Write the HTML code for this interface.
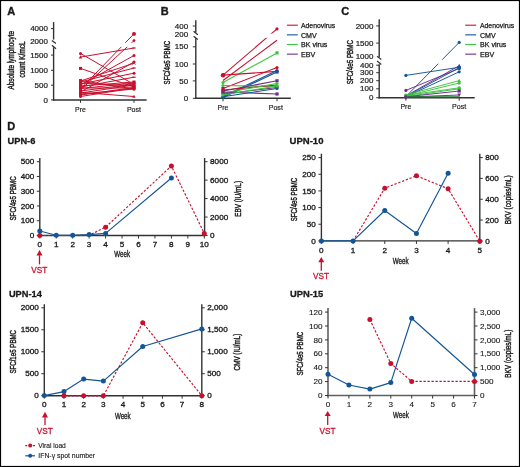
<!DOCTYPE html>
<html><head><meta charset="utf-8"><style>
html,body{margin:0;padding:0;background:#fff;}
body{width:520px;height:467px;overflow:hidden;}
svg{display:block;font-family:"Liberation Sans",sans-serif;will-change:transform;}
</style></head><body>
<svg width="520" height="467" viewBox="0 0 520 467">
<rect x="0.5" y="0.5" width="519" height="466" fill="#fff" stroke="#000" stroke-width="1.2"/>
<text x="7.30" y="15.40" font-size="11" text-anchor="start" stroke="#1a1a1a" stroke-width="0.35" font-weight="bold" fill="#1a1a1a">A</text>
<text x="160.80" y="15.40" font-size="11" text-anchor="start" stroke="#1a1a1a" stroke-width="0.35" font-weight="bold" fill="#1a1a1a">B</text>
<text x="341.20" y="15.40" font-size="11" text-anchor="start" stroke="#1a1a1a" stroke-width="0.35" font-weight="bold" fill="#1a1a1a">C</text>
<text x="7.30" y="129.90" font-size="11" text-anchor="start" stroke="#1a1a1a" stroke-width="0.35" font-weight="bold" fill="#1a1a1a">D</text>
<line x1="53.60" y1="22.10" x2="53.60" y2="39.60" stroke="#333333" stroke-width="1.4" stroke-linecap="butt"/>
<line x1="53.60" y1="47.20" x2="53.60" y2="100.60" stroke="#333333" stroke-width="1.4" stroke-linecap="butt"/>
<line x1="51.90" y1="40.40" x2="56.00" y2="43.60" stroke="#333333" stroke-width="1.3" stroke-linecap="butt"/>
<line x1="51.90" y1="45.30" x2="56.00" y2="48.70" stroke="#333333" stroke-width="1.3" stroke-linecap="butt"/>
<line x1="52.90" y1="100.00" x2="146.60" y2="100.00" stroke="#333333" stroke-width="1.5" stroke-linecap="butt"/>
<line x1="51.00" y1="28.60" x2="53.60" y2="28.60" stroke="#333333" stroke-width="1.0" stroke-linecap="butt"/>
<text x="47.90" y="31.20" font-size="7.6" text-anchor="end" stroke="#1a1a1a" stroke-width="0.2" fill="#1a1a1a" textLength="17.75" lengthAdjust="spacingAndGlyphs">4000</text>
<text x="47.90" y="43.80" font-size="7.6" text-anchor="end" stroke="#1a1a1a" stroke-width="0.2" fill="#1a1a1a" textLength="17.75" lengthAdjust="spacingAndGlyphs">2000</text>
<line x1="51.00" y1="55.10" x2="53.60" y2="55.10" stroke="#333333" stroke-width="1.0" stroke-linecap="butt"/>
<text x="47.90" y="57.70" font-size="7.6" text-anchor="end" stroke="#1a1a1a" stroke-width="0.2" fill="#1a1a1a" textLength="17.75" lengthAdjust="spacingAndGlyphs">1500</text>
<line x1="51.00" y1="70.30" x2="53.60" y2="70.30" stroke="#333333" stroke-width="1.0" stroke-linecap="butt"/>
<text x="47.90" y="72.90" font-size="7.6" text-anchor="end" stroke="#1a1a1a" stroke-width="0.2" fill="#1a1a1a" textLength="17.75" lengthAdjust="spacingAndGlyphs">1000</text>
<line x1="51.00" y1="85.20" x2="53.60" y2="85.20" stroke="#333333" stroke-width="1.0" stroke-linecap="butt"/>
<text x="47.90" y="87.80" font-size="7.6" text-anchor="end" stroke="#1a1a1a" stroke-width="0.2" fill="#1a1a1a" textLength="13.31" lengthAdjust="spacingAndGlyphs">500</text>
<line x1="51.00" y1="99.90" x2="53.60" y2="99.90" stroke="#333333" stroke-width="1.0" stroke-linecap="butt"/>
<text x="47.90" y="102.50" font-size="7.6" text-anchor="end" stroke="#1a1a1a" stroke-width="0.2" fill="#1a1a1a" textLength="4.44" lengthAdjust="spacingAndGlyphs">0</text>
<line x1="80.50" y1="99.90" x2="80.50" y2="102.80" stroke="#333333" stroke-width="1.0" stroke-linecap="butt"/>
<line x1="134.00" y1="99.90" x2="134.00" y2="102.80" stroke="#333333" stroke-width="1.0" stroke-linecap="butt"/>
<text x="80.50" y="112.40" font-size="7.6" text-anchor="middle" stroke="#1a1a1a" stroke-width="0.18" fill="#1a1a1a" textLength="10.8" lengthAdjust="spacingAndGlyphs">Pre</text>
<text x="134.00" y="112.40" font-size="7.6" text-anchor="middle" stroke="#1a1a1a" stroke-width="0.18" fill="#1a1a1a" textLength="14.2" lengthAdjust="spacingAndGlyphs">Post</text>
<text x="13.60" y="60.30" font-size="8.6" text-anchor="middle" stroke="#1a1a1a" stroke-width="0.42" fill="#1a1a1a" textLength="58.5" lengthAdjust="spacingAndGlyphs" transform="rotate(-90 13.60 60.30)">Absolute lymphocyte</text>
<text x="25.00" y="59.50" font-size="8.6" text-anchor="middle" stroke="#1a1a1a" stroke-width="0.42" fill="#1a1a1a" textLength="36" lengthAdjust="spacingAndGlyphs" transform="rotate(-90 25.00 59.50)">count K/mcL</text>
<line x1="80.50" y1="53.40" x2="134.00" y2="84.50" stroke="#c8102e" stroke-width="1.0" stroke-linecap="butt"/>
<line x1="80.50" y1="57.10" x2="134.00" y2="48.00" stroke="#c8102e" stroke-width="1.0" stroke-linecap="butt"/>
<line x1="80.50" y1="68.40" x2="134.00" y2="87.00" stroke="#c8102e" stroke-width="1.0" stroke-linecap="butt"/>
<line x1="80.50" y1="81.00" x2="134.00" y2="63.20" stroke="#c8102e" stroke-width="1.0" stroke-linecap="butt"/>
<line x1="80.50" y1="82.00" x2="134.00" y2="68.00" stroke="#c8102e" stroke-width="1.0" stroke-linecap="butt"/>
<line x1="80.50" y1="83.00" x2="134.00" y2="86.00" stroke="#c8102e" stroke-width="1.0" stroke-linecap="butt"/>
<line x1="80.50" y1="84.00" x2="134.00" y2="73.20" stroke="#c8102e" stroke-width="1.0" stroke-linecap="butt"/>
<line x1="80.50" y1="85.00" x2="134.00" y2="55.50" stroke="#c8102e" stroke-width="1.0" stroke-linecap="butt"/>
<line x1="80.50" y1="86.00" x2="134.00" y2="82.00" stroke="#c8102e" stroke-width="1.0" stroke-linecap="butt"/>
<line x1="80.50" y1="87.00" x2="134.00" y2="77.20" stroke="#c8102e" stroke-width="1.0" stroke-linecap="butt"/>
<line x1="80.50" y1="88.00" x2="134.00" y2="88.00" stroke="#c8102e" stroke-width="1.0" stroke-linecap="butt"/>
<line x1="80.50" y1="89.00" x2="134.00" y2="33.80" stroke="#c8102e" stroke-width="1.0" stroke-linecap="butt"/>
<line x1="80.50" y1="90.00" x2="134.00" y2="40.60" stroke="#c8102e" stroke-width="1.0" stroke-linecap="butt"/>
<line x1="80.50" y1="91.00" x2="134.00" y2="84.00" stroke="#c8102e" stroke-width="1.0" stroke-linecap="butt"/>
<line x1="80.50" y1="92.00" x2="134.00" y2="62.00" stroke="#c8102e" stroke-width="1.0" stroke-linecap="butt"/>
<line x1="80.50" y1="93.00" x2="134.00" y2="85.00" stroke="#c8102e" stroke-width="1.0" stroke-linecap="butt"/>
<line x1="80.50" y1="94.00" x2="134.00" y2="89.00" stroke="#c8102e" stroke-width="1.0" stroke-linecap="butt"/>
<line x1="80.50" y1="92.40" x2="134.00" y2="96.50" stroke="#c8102e" stroke-width="1.0" stroke-linecap="butt"/>
<line x1="80.50" y1="96.50" x2="134.00" y2="88.00" stroke="#c8102e" stroke-width="1.0" stroke-linecap="butt"/>
<line x1="80.50" y1="88.50" x2="134.00" y2="83.00" stroke="#c8102e" stroke-width="1.0" stroke-linecap="butt"/>
<line x1="80.50" y1="80.50" x2="134.00" y2="89.00" stroke="#c8102e" stroke-width="1.0" stroke-linecap="butt"/>
<line x1="80.50" y1="95.00" x2="134.00" y2="87.50" stroke="#c8102e" stroke-width="1.0" stroke-linecap="butt"/>
<rect x="56.00" y="42.80" width="88.00" height="4.00" fill="#fff"/>
<circle cx="80.50" cy="53.40" r="1.5" fill="#c8102e"/>
<line x1="132.50" y1="83.00" x2="135.50" y2="86.00" stroke="#c8102e" stroke-width="0.8" stroke-linecap="butt"/>
<line x1="132.50" y1="86.00" x2="135.50" y2="83.00" stroke="#c8102e" stroke-width="0.8" stroke-linecap="butt"/>
<polygon points="80.50,55.30 78.78,58.45 82.22,58.45" fill="#c8102e"/>
<rect x="132.35" y="47.40" width="3.30" height="1.20" fill="#c8102e"/>
<rect x="79.00" y="66.90" width="3.00" height="3.00" fill="#c8102e"/>
<circle cx="134.00" cy="87.00" r="1.5" fill="#c8102e"/>
<circle cx="80.50" cy="81.00" r="1.5" fill="#c8102e"/>
<line x1="132.50" y1="61.70" x2="135.50" y2="64.70" stroke="#c8102e" stroke-width="0.8" stroke-linecap="butt"/>
<line x1="132.50" y1="64.70" x2="135.50" y2="61.70" stroke="#c8102e" stroke-width="0.8" stroke-linecap="butt"/>
<rect x="79.00" y="80.50" width="3.00" height="3.00" fill="#c8102e"/>
<rect x="132.35" y="67.40" width="3.30" height="1.20" fill="#c8102e"/>
<circle cx="80.50" cy="83.00" r="1.5" fill="#c8102e"/>
<rect x="132.50" y="84.50" width="3.00" height="3.00" fill="#c8102e"/>
<polygon points="80.50,82.20 78.78,85.35 82.22,85.35" fill="#c8102e"/>
<circle cx="134.00" cy="73.20" r="1.5" fill="#c8102e"/>
<circle cx="80.50" cy="85.00" r="1.5" fill="#c8102e"/>
<circle cx="134.00" cy="55.50" r="1.5" fill="#c8102e"/>
<rect x="79.00" y="84.50" width="3.00" height="3.00" fill="#c8102e"/>
<rect x="132.50" y="80.50" width="3.00" height="3.00" fill="#c8102e"/>
<circle cx="80.50" cy="87.00" r="1.5" fill="#c8102e"/>
<rect x="132.35" y="76.60" width="3.30" height="1.20" fill="#c8102e"/>
<polygon points="80.50,86.05 82.15,88.00 80.50,89.95 78.85,88.00" fill="#c8102e"/>
<circle cx="134.00" cy="88.00" r="1.5" fill="#c8102e"/>
<circle cx="80.50" cy="89.00" r="1.5" fill="#c8102e"/>
<circle cx="134.00" cy="33.80" r="1.5" fill="#c8102e"/>
<rect x="79.00" y="88.50" width="3.00" height="3.00" fill="#c8102e"/>
<polygon points="134.00,38.65 135.65,40.60 134.00,42.55 132.35,40.60" fill="#c8102e"/>
<circle cx="80.50" cy="91.00" r="1.5" fill="#c8102e"/>
<circle cx="134.00" cy="84.00" r="1.5" fill="#c8102e"/>
<polygon points="80.50,90.20 78.78,93.35 82.22,93.35" fill="#c8102e"/>
<circle cx="134.00" cy="62.00" r="1.5" fill="#c8102e"/>
<circle cx="80.50" cy="93.00" r="1.5" fill="#c8102e"/>
<polygon points="134.00,83.20 132.28,86.35 135.72,86.35" fill="#c8102e"/>
<rect x="79.00" y="92.50" width="3.00" height="3.00" fill="#c8102e"/>
<circle cx="134.00" cy="89.00" r="1.5" fill="#c8102e"/>
<circle cx="80.50" cy="92.40" r="1.5" fill="#c8102e"/>
<polygon points="134.00,94.70 132.28,97.85 135.72,97.85" fill="#c8102e"/>
<circle cx="80.50" cy="96.50" r="1.5" fill="#c8102e"/>
<circle cx="134.00" cy="88.00" r="1.5" fill="#c8102e"/>
<circle cx="80.50" cy="88.50" r="1.5" fill="#c8102e"/>
<rect x="132.50" y="81.50" width="3.00" height="3.00" fill="#c8102e"/>
<rect x="79.00" y="79.00" width="3.00" height="3.00" fill="#c8102e"/>
<circle cx="134.00" cy="89.00" r="1.5" fill="#c8102e"/>
<circle cx="80.50" cy="95.00" r="1.5" fill="#c8102e"/>
<rect x="132.50" y="86.00" width="3.00" height="3.00" fill="#c8102e"/>
<circle cx="134.00" cy="33.90" r="1.9" fill="#c8102e"/>
<line x1="195.80" y1="20.20" x2="195.80" y2="32.60" stroke="#333333" stroke-width="1.4" stroke-linecap="butt"/>
<line x1="195.80" y1="38.30" x2="195.80" y2="99.00" stroke="#333333" stroke-width="1.4" stroke-linecap="butt"/>
<line x1="193.60" y1="31.20" x2="197.80" y2="34.70" stroke="#333333" stroke-width="1.3" stroke-linecap="butt"/>
<line x1="193.60" y1="36.30" x2="197.80" y2="39.50" stroke="#333333" stroke-width="1.3" stroke-linecap="butt"/>
<line x1="195.10" y1="98.30" x2="290.80" y2="98.30" stroke="#333333" stroke-width="1.5" stroke-linecap="butt"/>
<line x1="192.80" y1="26.00" x2="195.80" y2="26.00" stroke="#333333" stroke-width="1.0" stroke-linecap="butt"/>
<text x="188.10" y="28.60" font-size="7.6" text-anchor="end" stroke="#1a1a1a" stroke-width="0.2" fill="#1a1a1a" textLength="13.31" lengthAdjust="spacingAndGlyphs">400</text>
<text x="188.10" y="37.30" font-size="7.6" text-anchor="end" stroke="#1a1a1a" stroke-width="0.2" fill="#1a1a1a" textLength="13.31" lengthAdjust="spacingAndGlyphs">200</text>
<line x1="192.80" y1="46.80" x2="195.80" y2="46.80" stroke="#333333" stroke-width="1.0" stroke-linecap="butt"/>
<text x="188.10" y="49.40" font-size="7.6" text-anchor="end" stroke="#1a1a1a" stroke-width="0.2" fill="#1a1a1a" textLength="13.31" lengthAdjust="spacingAndGlyphs">150</text>
<line x1="192.80" y1="64.00" x2="195.80" y2="64.00" stroke="#333333" stroke-width="1.0" stroke-linecap="butt"/>
<text x="188.10" y="66.60" font-size="7.6" text-anchor="end" stroke="#1a1a1a" stroke-width="0.2" fill="#1a1a1a" textLength="13.31" lengthAdjust="spacingAndGlyphs">100</text>
<line x1="192.80" y1="80.90" x2="195.80" y2="80.90" stroke="#333333" stroke-width="1.0" stroke-linecap="butt"/>
<text x="188.10" y="83.50" font-size="7.6" text-anchor="end" stroke="#1a1a1a" stroke-width="0.2" fill="#1a1a1a" textLength="8.87" lengthAdjust="spacingAndGlyphs">50</text>
<line x1="192.80" y1="98.30" x2="195.80" y2="98.30" stroke="#333333" stroke-width="1.0" stroke-linecap="butt"/>
<text x="188.10" y="100.90" font-size="7.6" text-anchor="end" stroke="#1a1a1a" stroke-width="0.2" fill="#1a1a1a" textLength="4.44" lengthAdjust="spacingAndGlyphs">0</text>
<line x1="223.00" y1="98.30" x2="223.00" y2="101.30" stroke="#333333" stroke-width="1.0" stroke-linecap="butt"/>
<line x1="277.00" y1="98.30" x2="277.00" y2="101.30" stroke="#333333" stroke-width="1.0" stroke-linecap="butt"/>
<text x="223.00" y="109.90" font-size="7.6" text-anchor="middle" stroke="#1a1a1a" stroke-width="0.18" fill="#1a1a1a" textLength="10.8" lengthAdjust="spacingAndGlyphs">Pre</text>
<text x="275.80" y="109.90" font-size="7.6" text-anchor="middle" stroke="#1a1a1a" stroke-width="0.18" fill="#1a1a1a" textLength="14.2" lengthAdjust="spacingAndGlyphs">Post</text>
<text x="170.20" y="62.60" font-size="9.4" text-anchor="middle" stroke="#1a1a1a" stroke-width="0.42" fill="#1a1a1a" textLength="43.6" lengthAdjust="spacingAndGlyphs" transform="rotate(-90 170.20 62.60)">SFC/4e5 PBMC</text>
<line x1="223.00" y1="75.10" x2="277.00" y2="28.90" stroke="#c8102e" stroke-width="1.1" stroke-linecap="butt"/>
<line x1="223.00" y1="80.50" x2="277.00" y2="40.20" stroke="#c8102e" stroke-width="1.1" stroke-linecap="butt"/>
<line x1="223.00" y1="82.50" x2="277.00" y2="52.90" stroke="#3cc43c" stroke-width="1.1" stroke-linecap="butt"/>
<line x1="223.00" y1="75.10" x2="277.00" y2="71.40" stroke="#c8102e" stroke-width="1.1" stroke-linecap="butt"/>
<line x1="223.00" y1="88.50" x2="277.00" y2="67.60" stroke="#c8102e" stroke-width="1.1" stroke-linecap="butt"/>
<line x1="223.00" y1="96.50" x2="277.00" y2="70.50" stroke="#145595" stroke-width="1.1" stroke-linecap="butt"/>
<line x1="223.00" y1="97.50" x2="277.00" y2="72.00" stroke="#145595" stroke-width="1.1" stroke-linecap="butt"/>
<line x1="223.00" y1="85.50" x2="277.00" y2="86.50" stroke="#3cc43c" stroke-width="1.1" stroke-linecap="butt"/>
<line x1="223.00" y1="91.00" x2="277.00" y2="80.80" stroke="#6c2d8c" stroke-width="1.1" stroke-linecap="butt"/>
<line x1="223.00" y1="90.00" x2="277.00" y2="85.00" stroke="#c8102e" stroke-width="1.1" stroke-linecap="butt"/>
<line x1="223.00" y1="93.00" x2="277.00" y2="83.50" stroke="#3cc43c" stroke-width="1.1" stroke-linecap="butt"/>
<line x1="223.00" y1="92.00" x2="277.00" y2="94.00" stroke="#6c2d8c" stroke-width="1.1" stroke-linecap="butt"/>
<line x1="223.00" y1="94.00" x2="277.00" y2="87.50" stroke="#6c2d8c" stroke-width="1.1" stroke-linecap="butt"/>
<line x1="223.00" y1="96.80" x2="277.00" y2="88.50" stroke="#145595" stroke-width="1.1" stroke-linecap="butt"/>
<line x1="223.00" y1="95.00" x2="277.00" y2="86.00" stroke="#3cc43c" stroke-width="1.1" stroke-linecap="butt"/>
<rect x="198.00" y="33.60" width="90.00" height="4.20" fill="#fff"/>
<circle cx="223.00" cy="75.20" r="2.2" fill="#c8102e"/>
<circle cx="223.00" cy="75.10" r="1.6" fill="#c8102e"/>
<circle cx="277.00" cy="28.90" r="1.6" fill="#c8102e"/>
<circle cx="223.00" cy="82.50" r="1.6" fill="#3cc43c"/>
<rect x="275.40" y="51.30" width="3.20" height="3.20" fill="#3cc43c"/>
<circle cx="223.00" cy="75.10" r="1.6" fill="#c8102e"/>
<circle cx="277.00" cy="71.40" r="1.6" fill="#c8102e"/>
<rect x="221.40" y="86.90" width="3.20" height="3.20" fill="#c8102e"/>
<circle cx="277.00" cy="67.60" r="1.6" fill="#c8102e"/>
<circle cx="223.00" cy="96.50" r="1.6" fill="#145595"/>
<circle cx="277.00" cy="70.50" r="1.6" fill="#145595"/>
<circle cx="223.00" cy="97.50" r="1.6" fill="#145595"/>
<rect x="275.40" y="70.40" width="3.20" height="3.20" fill="#145595"/>
<circle cx="223.00" cy="85.50" r="1.6" fill="#3cc43c"/>
<circle cx="277.00" cy="86.50" r="1.6" fill="#3cc43c"/>
<rect x="221.40" y="89.40" width="3.20" height="3.20" fill="#6c2d8c"/>
<rect x="275.40" y="79.20" width="3.20" height="3.20" fill="#6c2d8c"/>
<circle cx="223.00" cy="90.00" r="1.6" fill="#c8102e"/>
<polygon points="277.00,83.08 275.16,86.44 278.84,86.44" fill="#c8102e"/>
<circle cx="223.00" cy="93.00" r="1.6" fill="#3cc43c"/>
<circle cx="277.00" cy="83.50" r="1.6" fill="#3cc43c"/>
<rect x="221.40" y="90.40" width="3.20" height="3.20" fill="#6c2d8c"/>
<rect x="275.40" y="92.40" width="3.20" height="3.20" fill="#6c2d8c"/>
<circle cx="223.00" cy="94.00" r="1.6" fill="#6c2d8c"/>
<circle cx="277.00" cy="87.50" r="1.6" fill="#6c2d8c"/>
<circle cx="223.00" cy="96.80" r="1.6" fill="#145595"/>
<circle cx="277.00" cy="88.50" r="1.6" fill="#145595"/>
<circle cx="223.00" cy="95.00" r="1.6" fill="#3cc43c"/>
<circle cx="277.00" cy="86.00" r="1.6" fill="#3cc43c"/>
<line x1="286.90" y1="25.20" x2="297.80" y2="25.20" stroke="#c8102e" stroke-width="1.1" stroke-linecap="butt"/>
<text x="301.00" y="28.10" font-size="7.1" text-anchor="start" stroke="#1a1a1a" stroke-width="0.25" fill="#1a1a1a" textLength="34.2" lengthAdjust="spacingAndGlyphs">Adenovirus</text>
<line x1="286.90" y1="34.85" x2="297.80" y2="34.85" stroke="#145595" stroke-width="1.1" stroke-linecap="butt"/>
<text x="301.00" y="37.75" font-size="7.1" text-anchor="start" stroke="#1a1a1a" stroke-width="0.25" fill="#1a1a1a">CMV</text>
<line x1="286.90" y1="44.50" x2="297.80" y2="44.50" stroke="#3cc43c" stroke-width="1.1" stroke-linecap="butt"/>
<text x="301.00" y="47.40" font-size="7.1" text-anchor="start" stroke="#1a1a1a" stroke-width="0.25" fill="#1a1a1a">BK virus</text>
<line x1="286.90" y1="54.15" x2="297.80" y2="54.15" stroke="#6c2d8c" stroke-width="1.1" stroke-linecap="butt"/>
<text x="301.00" y="57.05" font-size="7.1" text-anchor="start" stroke="#1a1a1a" stroke-width="0.25" fill="#1a1a1a">EBV</text>
<line x1="379.20" y1="19.30" x2="379.20" y2="57.00" stroke="#333333" stroke-width="1.4" stroke-linecap="butt"/>
<line x1="379.20" y1="64.20" x2="379.20" y2="98.40" stroke="#333333" stroke-width="1.4" stroke-linecap="butt"/>
<line x1="377.10" y1="56.20" x2="381.30" y2="59.40" stroke="#333333" stroke-width="1.3" stroke-linecap="butt"/>
<line x1="377.10" y1="61.00" x2="381.30" y2="64.40" stroke="#333333" stroke-width="1.3" stroke-linecap="butt"/>
<line x1="378.50" y1="97.70" x2="474.70" y2="97.70" stroke="#333333" stroke-width="1.5" stroke-linecap="butt"/>
<line x1="376.20" y1="25.90" x2="379.20" y2="25.90" stroke="#333333" stroke-width="1.0" stroke-linecap="butt"/>
<text x="373.40" y="28.50" font-size="7.6" text-anchor="end" stroke="#1a1a1a" stroke-width="0.2" fill="#1a1a1a" textLength="17.75" lengthAdjust="spacingAndGlyphs">2000</text>
<line x1="376.20" y1="43.10" x2="379.20" y2="43.10" stroke="#333333" stroke-width="1.0" stroke-linecap="butt"/>
<text x="373.40" y="45.70" font-size="7.6" text-anchor="end" stroke="#1a1a1a" stroke-width="0.2" fill="#1a1a1a" textLength="17.75" lengthAdjust="spacingAndGlyphs">1500</text>
<text x="373.40" y="58.90" font-size="7.6" text-anchor="end" stroke="#1a1a1a" stroke-width="0.2" fill="#1a1a1a" textLength="17.75" lengthAdjust="spacingAndGlyphs">1000</text>
<line x1="376.20" y1="65.20" x2="379.20" y2="65.20" stroke="#333333" stroke-width="1.0" stroke-linecap="butt"/>
<text x="373.40" y="67.80" font-size="7.6" text-anchor="end" stroke="#1a1a1a" stroke-width="0.2" fill="#1a1a1a" textLength="13.31" lengthAdjust="spacingAndGlyphs">400</text>
<line x1="376.20" y1="72.70" x2="379.20" y2="72.70" stroke="#333333" stroke-width="1.0" stroke-linecap="butt"/>
<text x="373.40" y="75.30" font-size="7.6" text-anchor="end" stroke="#1a1a1a" stroke-width="0.2" fill="#1a1a1a" textLength="13.31" lengthAdjust="spacingAndGlyphs">300</text>
<line x1="376.20" y1="80.70" x2="379.20" y2="80.70" stroke="#333333" stroke-width="1.0" stroke-linecap="butt"/>
<text x="373.40" y="83.30" font-size="7.6" text-anchor="end" stroke="#1a1a1a" stroke-width="0.2" fill="#1a1a1a" textLength="13.31" lengthAdjust="spacingAndGlyphs">200</text>
<line x1="376.20" y1="88.80" x2="379.20" y2="88.80" stroke="#333333" stroke-width="1.0" stroke-linecap="butt"/>
<text x="373.40" y="91.40" font-size="7.6" text-anchor="end" stroke="#1a1a1a" stroke-width="0.2" fill="#1a1a1a" textLength="13.31" lengthAdjust="spacingAndGlyphs">100</text>
<line x1="376.20" y1="97.70" x2="379.20" y2="97.70" stroke="#333333" stroke-width="1.0" stroke-linecap="butt"/>
<text x="373.40" y="100.30" font-size="7.6" text-anchor="end" stroke="#1a1a1a" stroke-width="0.2" fill="#1a1a1a" textLength="4.44" lengthAdjust="spacingAndGlyphs">0</text>
<line x1="405.90" y1="97.70" x2="405.90" y2="100.70" stroke="#333333" stroke-width="1.0" stroke-linecap="butt"/>
<line x1="459.20" y1="97.70" x2="459.20" y2="100.70" stroke="#333333" stroke-width="1.0" stroke-linecap="butt"/>
<text x="405.90" y="109.30" font-size="7.6" text-anchor="middle" stroke="#1a1a1a" stroke-width="0.18" fill="#1a1a1a" textLength="10.8" lengthAdjust="spacingAndGlyphs">Pre</text>
<text x="459.20" y="109.30" font-size="7.6" text-anchor="middle" stroke="#1a1a1a" stroke-width="0.18" fill="#1a1a1a" textLength="14.2" lengthAdjust="spacingAndGlyphs">Post</text>
<text x="353.20" y="62.20" font-size="9.4" text-anchor="middle" stroke="#1a1a1a" stroke-width="0.42" fill="#1a1a1a" textLength="44.3" lengthAdjust="spacingAndGlyphs" transform="rotate(-90 353.20 62.20)">SFC/4e5 PBMC</text>
<line x1="405.90" y1="96.60" x2="459.20" y2="42.40" stroke="#145595" stroke-width="0.95" stroke-linecap="butt"/>
<line x1="405.90" y1="75.40" x2="459.20" y2="67.30" stroke="#145595" stroke-width="0.95" stroke-linecap="butt"/>
<line x1="405.90" y1="90.40" x2="459.20" y2="68.50" stroke="#6c2d8c" stroke-width="0.95" stroke-linecap="butt"/>
<line x1="405.90" y1="96.00" x2="459.20" y2="65.70" stroke="#6c2d8c" stroke-width="0.95" stroke-linecap="butt"/>
<line x1="405.90" y1="96.50" x2="459.20" y2="67.70" stroke="#145595" stroke-width="0.95" stroke-linecap="butt"/>
<line x1="405.90" y1="96.80" x2="459.20" y2="71.80" stroke="#145595" stroke-width="0.95" stroke-linecap="butt"/>
<line x1="405.90" y1="95.00" x2="459.20" y2="80.60" stroke="#3cc43c" stroke-width="0.95" stroke-linecap="butt"/>
<line x1="405.90" y1="96.00" x2="459.20" y2="83.00" stroke="#3cc43c" stroke-width="0.95" stroke-linecap="butt"/>
<line x1="405.90" y1="95.50" x2="459.20" y2="87.80" stroke="#3cc43c" stroke-width="0.95" stroke-linecap="butt"/>
<line x1="405.90" y1="96.50" x2="459.20" y2="88.80" stroke="#3cc43c" stroke-width="0.95" stroke-linecap="butt"/>
<line x1="405.90" y1="96.80" x2="459.20" y2="91.00" stroke="#6c2d8c" stroke-width="0.95" stroke-linecap="butt"/>
<line x1="405.90" y1="97.00" x2="459.20" y2="95.00" stroke="#6c2d8c" stroke-width="0.95" stroke-linecap="butt"/>
<line x1="405.90" y1="96.90" x2="459.20" y2="96.90" stroke="#1f7a2a" stroke-width="1.4" stroke-linecap="butt"/>
<rect x="382.00" y="59.80" width="90.00" height="3.90" fill="#fff"/>
<circle cx="405.90" cy="96.60" r="1.6" fill="#145595"/>
<circle cx="459.20" cy="42.40" r="1.6" fill="#145595"/>
<circle cx="405.90" cy="75.40" r="1.6" fill="#145595"/>
<circle cx="459.20" cy="67.30" r="1.6" fill="#145595"/>
<circle cx="405.90" cy="90.40" r="1.6" fill="#6c2d8c"/>
<circle cx="459.20" cy="68.50" r="1.6" fill="#6c2d8c"/>
<circle cx="405.90" cy="96.00" r="1.6" fill="#6c2d8c"/>
<polygon points="459.20,63.78 457.36,67.14 461.04,67.14" fill="#6c2d8c"/>
<circle cx="405.90" cy="96.50" r="1.6" fill="#145595"/>
<rect x="457.60" y="66.10" width="3.20" height="3.20" fill="#145595"/>
<circle cx="405.90" cy="96.80" r="1.6" fill="#145595"/>
<circle cx="459.20" cy="71.80" r="1.6" fill="#145595"/>
<circle cx="405.90" cy="95.00" r="1.6" fill="#3cc43c"/>
<polygon points="459.20,78.68 457.36,82.04 461.04,82.04" fill="#3cc43c"/>
<circle cx="405.90" cy="96.00" r="1.6" fill="#3cc43c"/>
<circle cx="459.20" cy="83.00" r="1.6" fill="#3cc43c"/>
<circle cx="405.90" cy="95.50" r="1.6" fill="#3cc43c"/>
<circle cx="459.20" cy="87.80" r="1.6" fill="#3cc43c"/>
<circle cx="405.90" cy="96.50" r="1.6" fill="#3cc43c"/>
<circle cx="459.20" cy="88.80" r="1.6" fill="#3cc43c"/>
<circle cx="405.90" cy="96.80" r="1.6" fill="#6c2d8c"/>
<rect x="457.60" y="89.40" width="3.20" height="3.20" fill="#6c2d8c"/>
<circle cx="405.90" cy="97.00" r="1.6" fill="#6c2d8c"/>
<polygon points="459.20,96.92 457.36,93.56 461.04,93.56" fill="#6c2d8c"/>
<line x1="465.20" y1="25.20" x2="476.20" y2="25.20" stroke="#c8102e" stroke-width="1.1" stroke-linecap="butt"/>
<text x="480.00" y="28.10" font-size="7.1" text-anchor="start" stroke="#1a1a1a" stroke-width="0.25" fill="#1a1a1a" textLength="34.2" lengthAdjust="spacingAndGlyphs">Adenovirus</text>
<line x1="465.20" y1="34.85" x2="476.20" y2="34.85" stroke="#145595" stroke-width="1.1" stroke-linecap="butt"/>
<text x="480.00" y="37.75" font-size="7.1" text-anchor="start" stroke="#1a1a1a" stroke-width="0.25" fill="#1a1a1a">CMV</text>
<line x1="465.20" y1="44.50" x2="476.20" y2="44.50" stroke="#3cc43c" stroke-width="1.1" stroke-linecap="butt"/>
<text x="480.00" y="47.40" font-size="7.1" text-anchor="start" stroke="#1a1a1a" stroke-width="0.25" fill="#1a1a1a">BK virus</text>
<line x1="465.20" y1="54.15" x2="476.20" y2="54.15" stroke="#6c2d8c" stroke-width="1.1" stroke-linecap="butt"/>
<text x="480.00" y="57.05" font-size="7.1" text-anchor="start" stroke="#1a1a1a" stroke-width="0.25" fill="#1a1a1a">EBV</text>
<text x="7.50" y="144.40" font-size="9.5" text-anchor="start" stroke="#1a1a1a" stroke-width="0.3" font-weight="bold" fill="#1a1a1a" textLength="27.9" lengthAdjust="spacingAndGlyphs">UPN-6</text>
<line x1="39.80" y1="158.00" x2="39.80" y2="236.20" stroke="#333333" stroke-width="1.4" stroke-linecap="butt"/>
<line x1="204.60" y1="158.00" x2="204.60" y2="236.20" stroke="#333333" stroke-width="1.4" stroke-linecap="butt"/>
<line x1="39.10" y1="235.50" x2="205.30" y2="235.50" stroke="#333333" stroke-width="1.4" stroke-linecap="butt"/>
<line x1="36.80" y1="235.50" x2="39.80" y2="235.50" stroke="#333333" stroke-width="1.0" stroke-linecap="butt"/>
<text x="34.30" y="238.10" font-size="7.4" text-anchor="end" stroke="#1a1a1a" stroke-width="0.3" fill="#1a1a1a" textLength="4.53" lengthAdjust="spacingAndGlyphs">0</text>
<line x1="36.80" y1="220.74" x2="39.80" y2="220.74" stroke="#333333" stroke-width="1.0" stroke-linecap="butt"/>
<text x="34.30" y="223.34" font-size="7.4" text-anchor="end" stroke="#1a1a1a" stroke-width="0.3" fill="#1a1a1a" textLength="13.58" lengthAdjust="spacingAndGlyphs">100</text>
<line x1="36.80" y1="205.98" x2="39.80" y2="205.98" stroke="#333333" stroke-width="1.0" stroke-linecap="butt"/>
<text x="34.30" y="208.58" font-size="7.4" text-anchor="end" stroke="#1a1a1a" stroke-width="0.3" fill="#1a1a1a" textLength="13.58" lengthAdjust="spacingAndGlyphs">200</text>
<line x1="36.80" y1="191.22" x2="39.80" y2="191.22" stroke="#333333" stroke-width="1.0" stroke-linecap="butt"/>
<text x="34.30" y="193.82" font-size="7.4" text-anchor="end" stroke="#1a1a1a" stroke-width="0.3" fill="#1a1a1a" textLength="13.58" lengthAdjust="spacingAndGlyphs">300</text>
<line x1="36.80" y1="176.46" x2="39.80" y2="176.46" stroke="#333333" stroke-width="1.0" stroke-linecap="butt"/>
<text x="34.30" y="179.06" font-size="7.4" text-anchor="end" stroke="#1a1a1a" stroke-width="0.3" fill="#1a1a1a" textLength="13.58" lengthAdjust="spacingAndGlyphs">400</text>
<line x1="36.80" y1="161.70" x2="39.80" y2="161.70" stroke="#333333" stroke-width="1.0" stroke-linecap="butt"/>
<text x="34.30" y="164.30" font-size="7.4" text-anchor="end" stroke="#1a1a1a" stroke-width="0.3" fill="#1a1a1a" textLength="13.58" lengthAdjust="spacingAndGlyphs">500</text>
<line x1="204.60" y1="235.50" x2="207.60" y2="235.50" stroke="#333333" stroke-width="1.0" stroke-linecap="butt"/>
<text x="210.10" y="238.10" font-size="7.4" text-anchor="start" stroke="#1a1a1a" stroke-width="0.3" fill="#1a1a1a" textLength="4.53" lengthAdjust="spacingAndGlyphs">0</text>
<line x1="204.60" y1="217.05" x2="207.60" y2="217.05" stroke="#333333" stroke-width="1.0" stroke-linecap="butt"/>
<text x="210.10" y="219.65" font-size="7.4" text-anchor="start" stroke="#1a1a1a" stroke-width="0.3" fill="#1a1a1a" textLength="18.1" lengthAdjust="spacingAndGlyphs">2000</text>
<line x1="204.60" y1="198.60" x2="207.60" y2="198.60" stroke="#333333" stroke-width="1.0" stroke-linecap="butt"/>
<text x="210.10" y="201.20" font-size="7.4" text-anchor="start" stroke="#1a1a1a" stroke-width="0.3" fill="#1a1a1a" textLength="18.1" lengthAdjust="spacingAndGlyphs">4000</text>
<line x1="204.60" y1="180.15" x2="207.60" y2="180.15" stroke="#333333" stroke-width="1.0" stroke-linecap="butt"/>
<text x="210.10" y="182.75" font-size="7.4" text-anchor="start" stroke="#1a1a1a" stroke-width="0.3" fill="#1a1a1a" textLength="18.1" lengthAdjust="spacingAndGlyphs">6000</text>
<line x1="204.60" y1="161.70" x2="207.60" y2="161.70" stroke="#333333" stroke-width="1.0" stroke-linecap="butt"/>
<text x="210.10" y="164.30" font-size="7.4" text-anchor="start" stroke="#1a1a1a" stroke-width="0.3" fill="#1a1a1a" textLength="18.1" lengthAdjust="spacingAndGlyphs">8000</text>
<line x1="39.80" y1="235.50" x2="39.80" y2="238.50" stroke="#333333" stroke-width="1.0" stroke-linecap="butt"/>
<text x="39.80" y="246.60" font-size="7.4" text-anchor="middle" stroke="#1a1a1a" stroke-width="0.3" fill="#1a1a1a" textLength="4.53" lengthAdjust="spacingAndGlyphs">0</text>
<line x1="56.25" y1="235.50" x2="56.25" y2="238.50" stroke="#333333" stroke-width="1.0" stroke-linecap="butt"/>
<text x="56.25" y="246.60" font-size="7.4" text-anchor="middle" stroke="#1a1a1a" stroke-width="0.3" fill="#1a1a1a" textLength="4.53" lengthAdjust="spacingAndGlyphs">1</text>
<line x1="72.70" y1="235.50" x2="72.70" y2="238.50" stroke="#333333" stroke-width="1.0" stroke-linecap="butt"/>
<text x="72.70" y="246.60" font-size="7.4" text-anchor="middle" stroke="#1a1a1a" stroke-width="0.3" fill="#1a1a1a" textLength="4.53" lengthAdjust="spacingAndGlyphs">2</text>
<line x1="89.15" y1="235.50" x2="89.15" y2="238.50" stroke="#333333" stroke-width="1.0" stroke-linecap="butt"/>
<text x="89.15" y="246.60" font-size="7.4" text-anchor="middle" stroke="#1a1a1a" stroke-width="0.3" fill="#1a1a1a" textLength="4.53" lengthAdjust="spacingAndGlyphs">3</text>
<line x1="105.60" y1="235.50" x2="105.60" y2="238.50" stroke="#333333" stroke-width="1.0" stroke-linecap="butt"/>
<text x="105.60" y="246.60" font-size="7.4" text-anchor="middle" stroke="#1a1a1a" stroke-width="0.3" fill="#1a1a1a" textLength="4.53" lengthAdjust="spacingAndGlyphs">4</text>
<line x1="122.05" y1="235.50" x2="122.05" y2="238.50" stroke="#333333" stroke-width="1.0" stroke-linecap="butt"/>
<text x="122.05" y="246.60" font-size="7.4" text-anchor="middle" stroke="#1a1a1a" stroke-width="0.3" fill="#1a1a1a" textLength="4.53" lengthAdjust="spacingAndGlyphs">5</text>
<line x1="138.50" y1="235.50" x2="138.50" y2="238.50" stroke="#333333" stroke-width="1.0" stroke-linecap="butt"/>
<text x="138.50" y="246.60" font-size="7.4" text-anchor="middle" stroke="#1a1a1a" stroke-width="0.3" fill="#1a1a1a" textLength="4.53" lengthAdjust="spacingAndGlyphs">6</text>
<line x1="154.95" y1="235.50" x2="154.95" y2="238.50" stroke="#333333" stroke-width="1.0" stroke-linecap="butt"/>
<text x="154.95" y="246.60" font-size="7.4" text-anchor="middle" stroke="#1a1a1a" stroke-width="0.3" fill="#1a1a1a" textLength="4.53" lengthAdjust="spacingAndGlyphs">7</text>
<line x1="171.40" y1="235.50" x2="171.40" y2="238.50" stroke="#333333" stroke-width="1.0" stroke-linecap="butt"/>
<text x="171.40" y="246.60" font-size="7.4" text-anchor="middle" stroke="#1a1a1a" stroke-width="0.3" fill="#1a1a1a" textLength="4.53" lengthAdjust="spacingAndGlyphs">8</text>
<line x1="187.85" y1="235.50" x2="187.85" y2="238.50" stroke="#333333" stroke-width="1.0" stroke-linecap="butt"/>
<text x="187.85" y="246.60" font-size="7.4" text-anchor="middle" stroke="#1a1a1a" stroke-width="0.3" fill="#1a1a1a" textLength="4.53" lengthAdjust="spacingAndGlyphs">9</text>
<line x1="204.30" y1="235.50" x2="204.30" y2="238.50" stroke="#333333" stroke-width="1.0" stroke-linecap="butt"/>
<text x="204.30" y="246.60" font-size="7.4" text-anchor="middle" stroke="#1a1a1a" stroke-width="0.3" fill="#1a1a1a" textLength="9.05" lengthAdjust="spacingAndGlyphs">10</text>
<text x="122.10" y="257.20" font-size="8.8" text-anchor="middle" stroke="#1a1a1a" stroke-width="0.35" fill="#1a1a1a" textLength="15.8" lengthAdjust="spacingAndGlyphs">Week</text>
<text x="15.60" y="198.40" font-size="9.4" text-anchor="middle" stroke="#1a1a1a" stroke-width="0.42" fill="#1a1a1a" textLength="44.3" lengthAdjust="spacingAndGlyphs" transform="rotate(-90 15.60 198.40)">SFC/4e5 PBMC</text>
<text x="240.60" y="198.90" font-size="9.4" text-anchor="middle" stroke="#1a1a1a" stroke-width="0.42" fill="#1a1a1a" textLength="35.9" lengthAdjust="spacingAndGlyphs" transform="rotate(-90 240.60 198.90)">EBV (IU/mL)</text>
<line x1="39.50" y1="255.20" x2="39.50" y2="264.40" stroke="#c8102e" stroke-width="1.3" stroke-linecap="butt"/>
<polygon points="39.50,250.10 36.50,255.40 42.50,255.40" fill="#c8102e"/>
<text x="39.30" y="272.50" font-size="9.3" text-anchor="middle" stroke="#c8102e" stroke-width="0.3" fill="#c8102e" textLength="16" lengthAdjust="spacingAndGlyphs">VST</text>
<polyline points="39.80,235.50 56.25,235.50 72.70,235.50 89.15,235.30 105.60,227.20 171.40,166.00 204.30,233.40" fill="none" stroke="#c8102e" stroke-width="1.15" stroke-linejoin="round" stroke-dasharray="2.3,1.7"/>
<polyline points="39.80,231.00 56.25,235.30 72.70,235.30 89.15,234.60 105.60,233.40 171.40,178.00" fill="none" stroke="#145595" stroke-width="1.15" stroke-linejoin="round"/>
<circle cx="39.80" cy="235.50" r="2.5" fill="#c8102e"/>
<circle cx="105.60" cy="227.20" r="2.5" fill="#c8102e"/>
<circle cx="171.40" cy="166.00" r="2.5" fill="#c8102e"/>
<circle cx="204.30" cy="233.40" r="2.5" fill="#c8102e"/>
<circle cx="39.80" cy="231.00" r="2.5" fill="#145595"/>
<circle cx="56.25" cy="235.30" r="2.5" fill="#145595"/>
<circle cx="72.70" cy="235.30" r="2.5" fill="#145595"/>
<circle cx="89.15" cy="234.60" r="2.5" fill="#145595"/>
<circle cx="105.60" cy="233.40" r="2.5" fill="#145595"/>
<circle cx="171.40" cy="178.00" r="2.5" fill="#145595"/>
<text x="289.50" y="144.00" font-size="9.5" text-anchor="start" stroke="#1a1a1a" stroke-width="0.3" font-weight="bold" fill="#1a1a1a" textLength="34.0" lengthAdjust="spacingAndGlyphs">UPN-10</text>
<line x1="321.40" y1="153.70" x2="321.40" y2="241.60" stroke="#333333" stroke-width="1.4" stroke-linecap="butt"/>
<line x1="479.80" y1="153.70" x2="479.80" y2="241.60" stroke="#333333" stroke-width="1.4" stroke-linecap="butt"/>
<line x1="320.70" y1="240.90" x2="480.50" y2="240.90" stroke="#333333" stroke-width="1.4" stroke-linecap="butt"/>
<line x1="318.40" y1="240.90" x2="321.40" y2="240.90" stroke="#333333" stroke-width="1.0" stroke-linecap="butt"/>
<text x="315.90" y="243.50" font-size="7.4" text-anchor="end" stroke="#1a1a1a" stroke-width="0.3" fill="#1a1a1a" textLength="4.53" lengthAdjust="spacingAndGlyphs">0</text>
<line x1="318.40" y1="224.24" x2="321.40" y2="224.24" stroke="#333333" stroke-width="1.0" stroke-linecap="butt"/>
<text x="315.90" y="226.84" font-size="7.4" text-anchor="end" stroke="#1a1a1a" stroke-width="0.3" fill="#1a1a1a" textLength="9.05" lengthAdjust="spacingAndGlyphs">50</text>
<line x1="318.40" y1="207.58" x2="321.40" y2="207.58" stroke="#333333" stroke-width="1.0" stroke-linecap="butt"/>
<text x="315.90" y="210.18" font-size="7.4" text-anchor="end" stroke="#1a1a1a" stroke-width="0.3" fill="#1a1a1a" textLength="13.58" lengthAdjust="spacingAndGlyphs">100</text>
<line x1="318.40" y1="190.92" x2="321.40" y2="190.92" stroke="#333333" stroke-width="1.0" stroke-linecap="butt"/>
<text x="315.90" y="193.52" font-size="7.4" text-anchor="end" stroke="#1a1a1a" stroke-width="0.3" fill="#1a1a1a" textLength="13.58" lengthAdjust="spacingAndGlyphs">150</text>
<line x1="318.40" y1="174.26" x2="321.40" y2="174.26" stroke="#333333" stroke-width="1.0" stroke-linecap="butt"/>
<text x="315.90" y="176.86" font-size="7.4" text-anchor="end" stroke="#1a1a1a" stroke-width="0.3" fill="#1a1a1a" textLength="13.58" lengthAdjust="spacingAndGlyphs">200</text>
<line x1="318.40" y1="157.60" x2="321.40" y2="157.60" stroke="#333333" stroke-width="1.0" stroke-linecap="butt"/>
<text x="315.90" y="160.20" font-size="7.4" text-anchor="end" stroke="#1a1a1a" stroke-width="0.3" fill="#1a1a1a" textLength="13.58" lengthAdjust="spacingAndGlyphs">250</text>
<line x1="479.80" y1="240.90" x2="482.80" y2="240.90" stroke="#333333" stroke-width="1.0" stroke-linecap="butt"/>
<text x="485.30" y="243.50" font-size="7.4" text-anchor="start" stroke="#1a1a1a" stroke-width="0.3" fill="#1a1a1a" textLength="4.53" lengthAdjust="spacingAndGlyphs">0</text>
<line x1="479.80" y1="220.07" x2="482.80" y2="220.07" stroke="#333333" stroke-width="1.0" stroke-linecap="butt"/>
<text x="485.30" y="222.67" font-size="7.4" text-anchor="start" stroke="#1a1a1a" stroke-width="0.3" fill="#1a1a1a" textLength="13.58" lengthAdjust="spacingAndGlyphs">200</text>
<line x1="479.80" y1="199.25" x2="482.80" y2="199.25" stroke="#333333" stroke-width="1.0" stroke-linecap="butt"/>
<text x="485.30" y="201.85" font-size="7.4" text-anchor="start" stroke="#1a1a1a" stroke-width="0.3" fill="#1a1a1a" textLength="13.58" lengthAdjust="spacingAndGlyphs">400</text>
<line x1="479.80" y1="178.43" x2="482.80" y2="178.43" stroke="#333333" stroke-width="1.0" stroke-linecap="butt"/>
<text x="485.30" y="181.03" font-size="7.4" text-anchor="start" stroke="#1a1a1a" stroke-width="0.3" fill="#1a1a1a" textLength="13.58" lengthAdjust="spacingAndGlyphs">600</text>
<line x1="479.80" y1="157.60" x2="482.80" y2="157.60" stroke="#333333" stroke-width="1.0" stroke-linecap="butt"/>
<text x="485.30" y="160.20" font-size="7.4" text-anchor="start" stroke="#1a1a1a" stroke-width="0.3" fill="#1a1a1a" textLength="13.58" lengthAdjust="spacingAndGlyphs">800</text>
<line x1="321.40" y1="240.90" x2="321.40" y2="243.90" stroke="#333333" stroke-width="1.0" stroke-linecap="butt"/>
<text x="321.40" y="252.90" font-size="7.4" text-anchor="middle" stroke="#1a1a1a" stroke-width="0.3" fill="#1a1a1a" textLength="4.53" lengthAdjust="spacingAndGlyphs">0</text>
<line x1="353.08" y1="240.90" x2="353.08" y2="243.90" stroke="#333333" stroke-width="1.0" stroke-linecap="butt"/>
<text x="353.08" y="252.90" font-size="7.4" text-anchor="middle" stroke="#1a1a1a" stroke-width="0.3" fill="#1a1a1a" textLength="4.53" lengthAdjust="spacingAndGlyphs">1</text>
<line x1="384.76" y1="240.90" x2="384.76" y2="243.90" stroke="#333333" stroke-width="1.0" stroke-linecap="butt"/>
<text x="384.76" y="252.90" font-size="7.4" text-anchor="middle" stroke="#1a1a1a" stroke-width="0.3" fill="#1a1a1a" textLength="4.53" lengthAdjust="spacingAndGlyphs">2</text>
<line x1="416.44" y1="240.90" x2="416.44" y2="243.90" stroke="#333333" stroke-width="1.0" stroke-linecap="butt"/>
<text x="416.44" y="252.90" font-size="7.4" text-anchor="middle" stroke="#1a1a1a" stroke-width="0.3" fill="#1a1a1a" textLength="4.53" lengthAdjust="spacingAndGlyphs">3</text>
<line x1="448.12" y1="240.90" x2="448.12" y2="243.90" stroke="#333333" stroke-width="1.0" stroke-linecap="butt"/>
<text x="448.12" y="252.90" font-size="7.4" text-anchor="middle" stroke="#1a1a1a" stroke-width="0.3" fill="#1a1a1a" textLength="4.53" lengthAdjust="spacingAndGlyphs">4</text>
<line x1="479.80" y1="240.90" x2="479.80" y2="243.90" stroke="#333333" stroke-width="1.0" stroke-linecap="butt"/>
<text x="479.80" y="252.90" font-size="7.4" text-anchor="middle" stroke="#1a1a1a" stroke-width="0.3" fill="#1a1a1a" textLength="4.53" lengthAdjust="spacingAndGlyphs">5</text>
<text x="400.60" y="263.50" font-size="8.8" text-anchor="middle" stroke="#1a1a1a" stroke-width="0.35" fill="#1a1a1a" textLength="15.8" lengthAdjust="spacingAndGlyphs">Week</text>
<text x="296.50" y="199.50" font-size="9.4" text-anchor="middle" stroke="#1a1a1a" stroke-width="0.42" fill="#1a1a1a" textLength="43.5" lengthAdjust="spacingAndGlyphs" transform="rotate(-90 296.50 199.50)">SFC/4e5 PBMC</text>
<text x="511.30" y="199.80" font-size="9.4" text-anchor="middle" stroke="#1a1a1a" stroke-width="0.42" fill="#1a1a1a" textLength="48.8" lengthAdjust="spacingAndGlyphs" transform="rotate(-90 511.30 199.80)">BKV (copies/mL)</text>
<line x1="321.30" y1="262.00" x2="321.30" y2="270.80" stroke="#c8102e" stroke-width="1.3" stroke-linecap="butt"/>
<polygon points="321.30,257.00 318.30,262.20 324.30,262.20" fill="#c8102e"/>
<text x="321.10" y="279.40" font-size="9.3" text-anchor="middle" stroke="#c8102e" stroke-width="0.3" fill="#c8102e" textLength="16" lengthAdjust="spacingAndGlyphs">VST</text>
<polyline points="353.08,240.90 384.76,188.20 416.44,175.80 448.12,188.80 479.80,241.20" fill="none" stroke="#c8102e" stroke-width="1.15" stroke-linejoin="round" stroke-dasharray="2.3,1.7"/>
<polyline points="321.40,240.90 353.08,240.90 384.76,210.50 416.44,233.50 448.12,173.30" fill="none" stroke="#145595" stroke-width="1.15" stroke-linejoin="round"/>
<circle cx="384.76" cy="188.20" r="2.5" fill="#c8102e"/>
<circle cx="416.44" cy="175.80" r="2.5" fill="#c8102e"/>
<circle cx="448.12" cy="188.80" r="2.5" fill="#c8102e"/>
<circle cx="479.80" cy="241.20" r="2.5" fill="#c8102e"/>
<circle cx="321.40" cy="240.90" r="2.5" fill="#145595"/>
<circle cx="353.08" cy="240.90" r="2.5" fill="#145595"/>
<circle cx="384.76" cy="210.50" r="2.5" fill="#145595"/>
<circle cx="416.44" cy="233.50" r="2.5" fill="#145595"/>
<circle cx="448.12" cy="173.30" r="2.5" fill="#145595"/>
<text x="8.90" y="297.40" font-size="9.5" text-anchor="start" stroke="#1a1a1a" stroke-width="0.3" font-weight="bold" fill="#1a1a1a" textLength="33.0" lengthAdjust="spacingAndGlyphs">UPN-14</text>
<line x1="44.30" y1="304.20" x2="44.30" y2="396.40" stroke="#333333" stroke-width="1.4" stroke-linecap="butt"/>
<line x1="201.80" y1="304.20" x2="201.80" y2="396.40" stroke="#333333" stroke-width="1.4" stroke-linecap="butt"/>
<line x1="43.60" y1="395.70" x2="202.50" y2="395.70" stroke="#333333" stroke-width="1.4" stroke-linecap="butt"/>
<line x1="41.30" y1="395.70" x2="44.30" y2="395.70" stroke="#333333" stroke-width="1.0" stroke-linecap="butt"/>
<text x="38.80" y="398.30" font-size="7.4" text-anchor="end" stroke="#1a1a1a" stroke-width="0.3" fill="#1a1a1a" textLength="4.53" lengthAdjust="spacingAndGlyphs">0</text>
<line x1="41.30" y1="373.73" x2="44.30" y2="373.73" stroke="#333333" stroke-width="1.0" stroke-linecap="butt"/>
<text x="38.80" y="376.33" font-size="7.4" text-anchor="end" stroke="#1a1a1a" stroke-width="0.3" fill="#1a1a1a" textLength="13.58" lengthAdjust="spacingAndGlyphs">500</text>
<line x1="41.30" y1="351.75" x2="44.30" y2="351.75" stroke="#333333" stroke-width="1.0" stroke-linecap="butt"/>
<text x="38.80" y="354.35" font-size="7.4" text-anchor="end" stroke="#1a1a1a" stroke-width="0.3" fill="#1a1a1a" textLength="18.1" lengthAdjust="spacingAndGlyphs">1000</text>
<line x1="41.30" y1="329.77" x2="44.30" y2="329.77" stroke="#333333" stroke-width="1.0" stroke-linecap="butt"/>
<text x="38.80" y="332.38" font-size="7.4" text-anchor="end" stroke="#1a1a1a" stroke-width="0.3" fill="#1a1a1a" textLength="18.1" lengthAdjust="spacingAndGlyphs">1500</text>
<line x1="41.30" y1="307.80" x2="44.30" y2="307.80" stroke="#333333" stroke-width="1.0" stroke-linecap="butt"/>
<text x="38.80" y="310.40" font-size="7.4" text-anchor="end" stroke="#1a1a1a" stroke-width="0.3" fill="#1a1a1a" textLength="18.1" lengthAdjust="spacingAndGlyphs">2000</text>
<line x1="201.80" y1="395.70" x2="204.80" y2="395.70" stroke="#333333" stroke-width="1.0" stroke-linecap="butt"/>
<text x="207.30" y="398.30" font-size="7.4" text-anchor="start" stroke="#1a1a1a" stroke-width="0.3" fill="#1a1a1a" textLength="4.53" lengthAdjust="spacingAndGlyphs">0</text>
<line x1="201.80" y1="373.73" x2="204.80" y2="373.73" stroke="#333333" stroke-width="1.0" stroke-linecap="butt"/>
<text x="207.30" y="376.33" font-size="7.4" text-anchor="start" stroke="#1a1a1a" stroke-width="0.3" fill="#1a1a1a" textLength="13.58" lengthAdjust="spacingAndGlyphs">500</text>
<line x1="201.80" y1="351.75" x2="204.80" y2="351.75" stroke="#333333" stroke-width="1.0" stroke-linecap="butt"/>
<text x="207.30" y="354.35" font-size="7.4" text-anchor="start" stroke="#1a1a1a" stroke-width="0.3" fill="#1a1a1a" textLength="20.37" lengthAdjust="spacingAndGlyphs">1,000</text>
<line x1="201.80" y1="329.77" x2="204.80" y2="329.77" stroke="#333333" stroke-width="1.0" stroke-linecap="butt"/>
<text x="207.30" y="332.38" font-size="7.4" text-anchor="start" stroke="#1a1a1a" stroke-width="0.3" fill="#1a1a1a" textLength="20.37" lengthAdjust="spacingAndGlyphs">1,500</text>
<line x1="201.80" y1="307.80" x2="204.80" y2="307.80" stroke="#333333" stroke-width="1.0" stroke-linecap="butt"/>
<text x="207.30" y="310.40" font-size="7.4" text-anchor="start" stroke="#1a1a1a" stroke-width="0.3" fill="#1a1a1a" textLength="20.37" lengthAdjust="spacingAndGlyphs">2,000</text>
<line x1="44.30" y1="395.70" x2="44.30" y2="398.70" stroke="#333333" stroke-width="1.0" stroke-linecap="butt"/>
<text x="44.30" y="407.20" font-size="7.4" text-anchor="middle" stroke="#1a1a1a" stroke-width="0.3" fill="#1a1a1a" textLength="4.53" lengthAdjust="spacingAndGlyphs">0</text>
<line x1="63.99" y1="395.70" x2="63.99" y2="398.70" stroke="#333333" stroke-width="1.0" stroke-linecap="butt"/>
<text x="63.99" y="407.20" font-size="7.4" text-anchor="middle" stroke="#1a1a1a" stroke-width="0.3" fill="#1a1a1a" textLength="4.53" lengthAdjust="spacingAndGlyphs">1</text>
<line x1="83.67" y1="395.70" x2="83.67" y2="398.70" stroke="#333333" stroke-width="1.0" stroke-linecap="butt"/>
<text x="83.67" y="407.20" font-size="7.4" text-anchor="middle" stroke="#1a1a1a" stroke-width="0.3" fill="#1a1a1a" textLength="4.53" lengthAdjust="spacingAndGlyphs">2</text>
<line x1="103.36" y1="395.70" x2="103.36" y2="398.70" stroke="#333333" stroke-width="1.0" stroke-linecap="butt"/>
<text x="103.36" y="407.20" font-size="7.4" text-anchor="middle" stroke="#1a1a1a" stroke-width="0.3" fill="#1a1a1a" textLength="4.53" lengthAdjust="spacingAndGlyphs">3</text>
<line x1="123.05" y1="395.70" x2="123.05" y2="398.70" stroke="#333333" stroke-width="1.0" stroke-linecap="butt"/>
<text x="123.05" y="407.20" font-size="7.4" text-anchor="middle" stroke="#1a1a1a" stroke-width="0.3" fill="#1a1a1a" textLength="4.53" lengthAdjust="spacingAndGlyphs">4</text>
<line x1="142.74" y1="395.70" x2="142.74" y2="398.70" stroke="#333333" stroke-width="1.0" stroke-linecap="butt"/>
<text x="142.74" y="407.20" font-size="7.4" text-anchor="middle" stroke="#1a1a1a" stroke-width="0.3" fill="#1a1a1a" textLength="4.53" lengthAdjust="spacingAndGlyphs">5</text>
<line x1="162.43" y1="395.70" x2="162.43" y2="398.70" stroke="#333333" stroke-width="1.0" stroke-linecap="butt"/>
<text x="162.43" y="407.20" font-size="7.4" text-anchor="middle" stroke="#1a1a1a" stroke-width="0.3" fill="#1a1a1a" textLength="4.53" lengthAdjust="spacingAndGlyphs">6</text>
<line x1="182.11" y1="395.70" x2="182.11" y2="398.70" stroke="#333333" stroke-width="1.0" stroke-linecap="butt"/>
<text x="182.11" y="407.20" font-size="7.4" text-anchor="middle" stroke="#1a1a1a" stroke-width="0.3" fill="#1a1a1a" textLength="4.53" lengthAdjust="spacingAndGlyphs">7</text>
<line x1="201.80" y1="395.70" x2="201.80" y2="398.70" stroke="#333333" stroke-width="1.0" stroke-linecap="butt"/>
<text x="201.80" y="407.20" font-size="7.4" text-anchor="middle" stroke="#1a1a1a" stroke-width="0.3" fill="#1a1a1a" textLength="4.53" lengthAdjust="spacingAndGlyphs">8</text>
<text x="122.80" y="418.50" font-size="8.8" text-anchor="middle" stroke="#1a1a1a" stroke-width="0.35" fill="#1a1a1a" textLength="15.8" lengthAdjust="spacingAndGlyphs">Week</text>
<text x="15.70" y="351.80" font-size="9.4" text-anchor="middle" stroke="#1a1a1a" stroke-width="0.42" fill="#1a1a1a" textLength="43.6" lengthAdjust="spacingAndGlyphs" transform="rotate(-90 15.70 351.80)">SFC/1e5 PBMC</text>
<text x="240.10" y="352.00" font-size="9.4" text-anchor="middle" stroke="#1a1a1a" stroke-width="0.42" fill="#1a1a1a" textLength="36.8" lengthAdjust="spacingAndGlyphs" transform="rotate(-90 240.10 352.00)">CMV (IU/mL)</text>
<line x1="45.00" y1="417.30" x2="45.00" y2="425.00" stroke="#c8102e" stroke-width="1.3" stroke-linecap="butt"/>
<polygon points="45.00,411.80 42.00,417.50 48.00,417.50" fill="#c8102e"/>
<text x="44.80" y="433.60" font-size="9.3" text-anchor="middle" stroke="#c8102e" stroke-width="0.3" fill="#c8102e" textLength="16" lengthAdjust="spacingAndGlyphs">VST</text>
<polyline points="63.99,395.80 83.67,395.80 103.36,395.80 142.74,322.80 201.80,395.70" fill="none" stroke="#c8102e" stroke-width="1.15" stroke-linejoin="round" stroke-dasharray="2.3,1.7"/>
<polyline points="44.30,395.60 63.99,391.60 83.67,379.10 103.36,381.10 142.74,346.50 201.80,328.90" fill="none" stroke="#145595" stroke-width="1.15" stroke-linejoin="round"/>
<circle cx="63.99" cy="395.80" r="2.5" fill="#c8102e"/>
<circle cx="83.67" cy="395.80" r="2.5" fill="#c8102e"/>
<circle cx="103.36" cy="395.80" r="2.5" fill="#c8102e"/>
<circle cx="142.74" cy="322.80" r="2.5" fill="#c8102e"/>
<circle cx="201.80" cy="395.70" r="2.5" fill="#c8102e"/>
<circle cx="44.30" cy="395.60" r="2.5" fill="#145595"/>
<circle cx="63.99" cy="391.60" r="2.5" fill="#145595"/>
<circle cx="83.67" cy="379.10" r="2.5" fill="#145595"/>
<circle cx="103.36" cy="381.10" r="2.5" fill="#145595"/>
<circle cx="142.74" cy="346.50" r="2.5" fill="#145595"/>
<circle cx="201.80" cy="328.90" r="2.5" fill="#145595"/>
<text x="289.90" y="297.40" font-size="9.5" text-anchor="start" stroke="#1a1a1a" stroke-width="0.3" font-weight="bold" fill="#1a1a1a" textLength="33.3" lengthAdjust="spacingAndGlyphs">UPN-15</text>
<line x1="328.00" y1="308.10" x2="328.00" y2="396.20" stroke="#606060" stroke-width="1.6" stroke-linecap="butt"/>
<line x1="474.50" y1="308.10" x2="474.50" y2="396.20" stroke="#606060" stroke-width="1.6" stroke-linecap="butt"/>
<line x1="327.30" y1="395.50" x2="475.20" y2="395.50" stroke="#606060" stroke-width="1.6" stroke-linecap="butt"/>
<line x1="325.00" y1="395.50" x2="328.00" y2="395.50" stroke="#333333" stroke-width="1.0" stroke-linecap="butt"/>
<text x="322.50" y="398.10" font-size="7.4" text-anchor="end" stroke="#1a1a1a" stroke-width="0.12" fill="#1a1a1a" textLength="4.53" lengthAdjust="spacingAndGlyphs">0</text>
<line x1="325.00" y1="381.60" x2="328.00" y2="381.60" stroke="#333333" stroke-width="1.0" stroke-linecap="butt"/>
<text x="322.50" y="384.20" font-size="7.4" text-anchor="end" stroke="#1a1a1a" stroke-width="0.12" fill="#1a1a1a" textLength="9.05" lengthAdjust="spacingAndGlyphs">20</text>
<line x1="325.00" y1="367.70" x2="328.00" y2="367.70" stroke="#333333" stroke-width="1.0" stroke-linecap="butt"/>
<text x="322.50" y="370.30" font-size="7.4" text-anchor="end" stroke="#1a1a1a" stroke-width="0.12" fill="#1a1a1a" textLength="9.05" lengthAdjust="spacingAndGlyphs">40</text>
<line x1="325.00" y1="353.80" x2="328.00" y2="353.80" stroke="#333333" stroke-width="1.0" stroke-linecap="butt"/>
<text x="322.50" y="356.40" font-size="7.4" text-anchor="end" stroke="#1a1a1a" stroke-width="0.12" fill="#1a1a1a" textLength="9.05" lengthAdjust="spacingAndGlyphs">60</text>
<line x1="325.00" y1="339.90" x2="328.00" y2="339.90" stroke="#333333" stroke-width="1.0" stroke-linecap="butt"/>
<text x="322.50" y="342.50" font-size="7.4" text-anchor="end" stroke="#1a1a1a" stroke-width="0.12" fill="#1a1a1a" textLength="9.05" lengthAdjust="spacingAndGlyphs">80</text>
<line x1="325.00" y1="326.00" x2="328.00" y2="326.00" stroke="#333333" stroke-width="1.0" stroke-linecap="butt"/>
<text x="322.50" y="328.60" font-size="7.4" text-anchor="end" stroke="#1a1a1a" stroke-width="0.12" fill="#1a1a1a" textLength="13.58" lengthAdjust="spacingAndGlyphs">100</text>
<line x1="325.00" y1="312.10" x2="328.00" y2="312.10" stroke="#333333" stroke-width="1.0" stroke-linecap="butt"/>
<text x="322.50" y="314.70" font-size="7.4" text-anchor="end" stroke="#1a1a1a" stroke-width="0.12" fill="#1a1a1a" textLength="13.58" lengthAdjust="spacingAndGlyphs">120</text>
<line x1="474.50" y1="395.50" x2="477.50" y2="395.50" stroke="#333333" stroke-width="1.0" stroke-linecap="butt"/>
<text x="480.00" y="398.10" font-size="7.4" text-anchor="start" stroke="#1a1a1a" stroke-width="0.12" fill="#1a1a1a" textLength="4.53" lengthAdjust="spacingAndGlyphs">0</text>
<line x1="474.50" y1="381.60" x2="477.50" y2="381.60" stroke="#333333" stroke-width="1.0" stroke-linecap="butt"/>
<text x="480.00" y="384.20" font-size="7.4" text-anchor="start" stroke="#1a1a1a" stroke-width="0.12" fill="#1a1a1a" textLength="13.58" lengthAdjust="spacingAndGlyphs">500</text>
<line x1="474.50" y1="367.70" x2="477.50" y2="367.70" stroke="#333333" stroke-width="1.0" stroke-linecap="butt"/>
<text x="480.00" y="370.30" font-size="7.4" text-anchor="start" stroke="#1a1a1a" stroke-width="0.12" fill="#1a1a1a" textLength="20.37" lengthAdjust="spacingAndGlyphs">1,000</text>
<line x1="474.50" y1="353.80" x2="477.50" y2="353.80" stroke="#333333" stroke-width="1.0" stroke-linecap="butt"/>
<text x="480.00" y="356.40" font-size="7.4" text-anchor="start" stroke="#1a1a1a" stroke-width="0.12" fill="#1a1a1a" textLength="20.37" lengthAdjust="spacingAndGlyphs">1,500</text>
<line x1="474.50" y1="339.90" x2="477.50" y2="339.90" stroke="#333333" stroke-width="1.0" stroke-linecap="butt"/>
<text x="480.00" y="342.50" font-size="7.4" text-anchor="start" stroke="#1a1a1a" stroke-width="0.12" fill="#1a1a1a" textLength="20.37" lengthAdjust="spacingAndGlyphs">2,000</text>
<line x1="474.50" y1="326.00" x2="477.50" y2="326.00" stroke="#333333" stroke-width="1.0" stroke-linecap="butt"/>
<text x="480.00" y="328.60" font-size="7.4" text-anchor="start" stroke="#1a1a1a" stroke-width="0.12" fill="#1a1a1a" textLength="20.37" lengthAdjust="spacingAndGlyphs">2,500</text>
<line x1="474.50" y1="312.10" x2="477.50" y2="312.10" stroke="#333333" stroke-width="1.0" stroke-linecap="butt"/>
<text x="480.00" y="314.70" font-size="7.4" text-anchor="start" stroke="#1a1a1a" stroke-width="0.12" fill="#1a1a1a" textLength="20.37" lengthAdjust="spacingAndGlyphs">3,000</text>
<line x1="328.00" y1="395.50" x2="328.00" y2="398.50" stroke="#333333" stroke-width="1.0" stroke-linecap="butt"/>
<text x="328.00" y="407.40" font-size="7.4" text-anchor="middle" stroke="#1a1a1a" stroke-width="0.12" fill="#1a1a1a" textLength="4.53" lengthAdjust="spacingAndGlyphs">0</text>
<line x1="348.93" y1="395.50" x2="348.93" y2="398.50" stroke="#333333" stroke-width="1.0" stroke-linecap="butt"/>
<text x="348.93" y="407.40" font-size="7.4" text-anchor="middle" stroke="#1a1a1a" stroke-width="0.12" fill="#1a1a1a" textLength="4.53" lengthAdjust="spacingAndGlyphs">1</text>
<line x1="369.86" y1="395.50" x2="369.86" y2="398.50" stroke="#333333" stroke-width="1.0" stroke-linecap="butt"/>
<text x="369.86" y="407.40" font-size="7.4" text-anchor="middle" stroke="#1a1a1a" stroke-width="0.12" fill="#1a1a1a" textLength="4.53" lengthAdjust="spacingAndGlyphs">2</text>
<line x1="390.79" y1="395.50" x2="390.79" y2="398.50" stroke="#333333" stroke-width="1.0" stroke-linecap="butt"/>
<text x="390.79" y="407.40" font-size="7.4" text-anchor="middle" stroke="#1a1a1a" stroke-width="0.12" fill="#1a1a1a" textLength="4.53" lengthAdjust="spacingAndGlyphs">3</text>
<line x1="411.71" y1="395.50" x2="411.71" y2="398.50" stroke="#333333" stroke-width="1.0" stroke-linecap="butt"/>
<text x="411.71" y="407.40" font-size="7.4" text-anchor="middle" stroke="#1a1a1a" stroke-width="0.12" fill="#1a1a1a" textLength="4.53" lengthAdjust="spacingAndGlyphs">4</text>
<line x1="432.64" y1="395.50" x2="432.64" y2="398.50" stroke="#333333" stroke-width="1.0" stroke-linecap="butt"/>
<text x="432.64" y="407.40" font-size="7.4" text-anchor="middle" stroke="#1a1a1a" stroke-width="0.12" fill="#1a1a1a" textLength="4.53" lengthAdjust="spacingAndGlyphs">5</text>
<line x1="453.57" y1="395.50" x2="453.57" y2="398.50" stroke="#333333" stroke-width="1.0" stroke-linecap="butt"/>
<text x="453.57" y="407.40" font-size="7.4" text-anchor="middle" stroke="#1a1a1a" stroke-width="0.12" fill="#1a1a1a" textLength="4.53" lengthAdjust="spacingAndGlyphs">6</text>
<line x1="474.50" y1="395.50" x2="474.50" y2="398.50" stroke="#333333" stroke-width="1.0" stroke-linecap="butt"/>
<text x="474.50" y="407.40" font-size="7.4" text-anchor="middle" stroke="#1a1a1a" stroke-width="0.12" fill="#1a1a1a" textLength="4.53" lengthAdjust="spacingAndGlyphs">7</text>
<text x="401.00" y="418.20" font-size="8.8" text-anchor="middle" stroke="#1a1a1a" stroke-width="0.35" fill="#1a1a1a" textLength="15.8" lengthAdjust="spacingAndGlyphs">Week</text>
<text x="303.00" y="353.60" font-size="9.4" text-anchor="middle" stroke="#1a1a1a" stroke-width="0.42" fill="#1a1a1a" textLength="43.8" lengthAdjust="spacingAndGlyphs" transform="rotate(-90 303.00 353.60)">SFC/4e5 PBMC</text>
<text x="511.30" y="353.70" font-size="9.4" text-anchor="middle" stroke="#1a1a1a" stroke-width="0.42" fill="#1a1a1a" textLength="48.0" lengthAdjust="spacingAndGlyphs" transform="rotate(-90 511.30 353.70)">BKV (copies/mL)</text>
<line x1="327.70" y1="415.70" x2="327.70" y2="424.90" stroke="#c8102e" stroke-width="1.3" stroke-linecap="butt"/>
<polygon points="327.70,410.90 324.70,415.90 330.70,415.90" fill="#c8102e"/>
<text x="327.50" y="433.50" font-size="9.3" text-anchor="middle" stroke="#c8102e" stroke-width="0.3" fill="#c8102e" textLength="16" lengthAdjust="spacingAndGlyphs">VST</text>
<polyline points="369.86,319.50 390.79,363.50 411.71,381.40 474.50,381.40" fill="none" stroke="#c8102e" stroke-width="1.15" stroke-linejoin="round" stroke-dasharray="2.3,1.7"/>
<polyline points="328.00,374.30 348.93,385.00 369.86,389.10 390.79,382.60 411.71,318.20 474.50,374.50" fill="none" stroke="#145595" stroke-width="1.15" stroke-linejoin="round"/>
<circle cx="369.86" cy="319.50" r="2.5" fill="#c8102e"/>
<circle cx="390.79" cy="363.50" r="2.5" fill="#c8102e"/>
<circle cx="411.71" cy="381.40" r="2.5" fill="#c8102e"/>
<circle cx="474.50" cy="381.40" r="2.5" fill="#c8102e"/>
<circle cx="328.00" cy="374.30" r="2.5" fill="#145595"/>
<circle cx="348.93" cy="385.00" r="2.5" fill="#145595"/>
<circle cx="369.86" cy="389.10" r="2.5" fill="#145595"/>
<circle cx="390.79" cy="382.60" r="2.5" fill="#145595"/>
<circle cx="411.71" cy="318.20" r="2.5" fill="#145595"/>
<circle cx="474.50" cy="374.50" r="2.5" fill="#145595"/>
<line x1="25.20" y1="445.60" x2="35.00" y2="445.60" stroke="#c8102e" stroke-width="1.1" stroke-linecap="butt" stroke-dasharray="2.0,1.9"/>
<circle cx="30.20" cy="445.60" r="2.0" fill="#c8102e"/>
<text x="38.30" y="447.90" font-size="8.0" text-anchor="start" stroke="#1a1a1a" stroke-width="0.15" fill="#1a1a1a" textLength="27.5" lengthAdjust="spacingAndGlyphs">Viral load</text>
<line x1="25.20" y1="455.80" x2="35.00" y2="455.80" stroke="#145595" stroke-width="1.2" stroke-linecap="butt"/>
<circle cx="30.20" cy="455.80" r="2.0" fill="#145595"/>
<text x="38.30" y="458.10" font-size="8.0" text-anchor="start" stroke="#1a1a1a" stroke-width="0.15" fill="#1a1a1a" textLength="56.8" lengthAdjust="spacingAndGlyphs">IFN-&#947; spot number</text>
</svg>
</body></html>
